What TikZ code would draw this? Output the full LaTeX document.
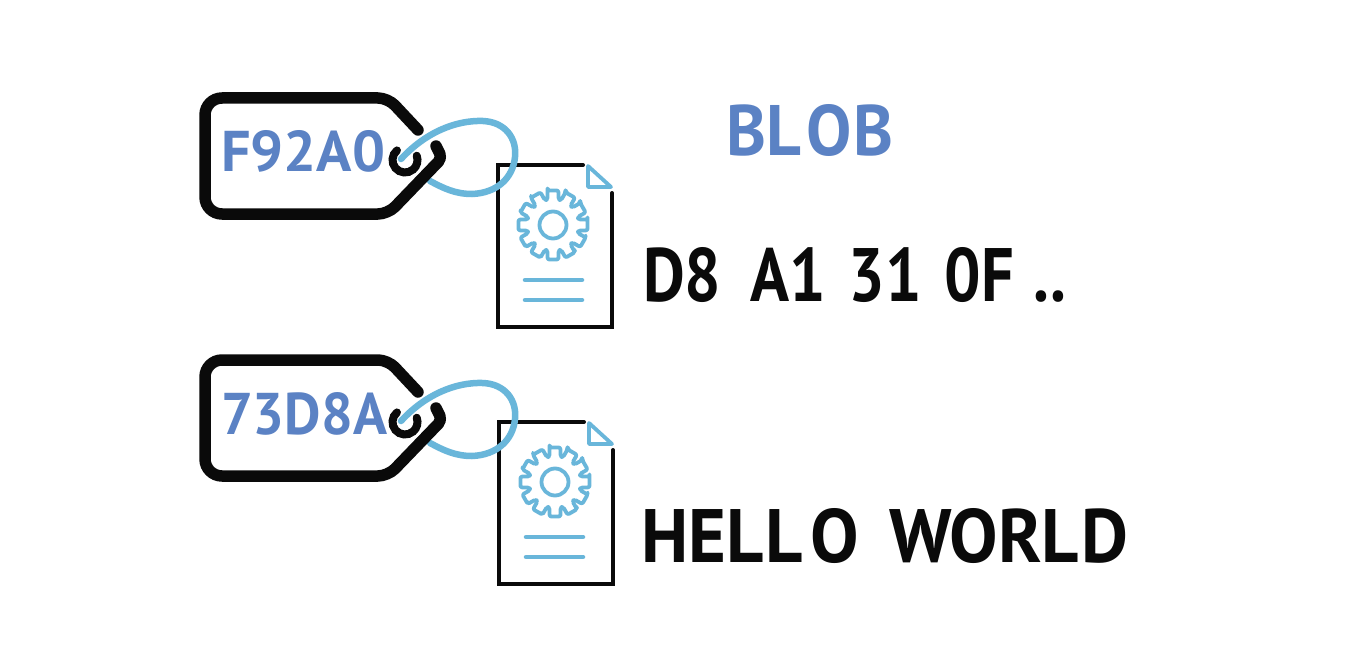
\documentclass[tikz,border=0pt]{standalone}
\usepackage{fontspec}
\usepackage{graphicx}
\setmainfont{PT Sans}
\definecolor{inkblack}{HTML}{0A0A0A}
\definecolor{skyline}{HTML}{69B6DA}
\definecolor{labelblue}{HTML}{5B82C4}
\newcommand{\fitlabel}[3]{\resizebox{#1pt}{#2pt}{\bfseries #3}}
\tikzset{
  x=1pt,y=-1pt,
  tagline/.style={draw=inkblack,line width=11.5pt,line cap=round,line join=round},
  holeline/.style={draw=inkblack,line width=8pt,line cap=round},
  stringline/.style={draw=skyline,line width=6.5pt,line cap=round},
  docline/.style={draw=inkblack,line width=4pt,line cap=round,line join=miter},
  iconline/.style={draw=skyline,line width=3.8pt,line join=round},
  rowline/.style={draw=skyline,line width=4.5pt,line cap=round},
  txt/.style={inner sep=0pt,outer sep=0pt,anchor=south west},
  pics/gearicon/.style={code={
    \draw[iconline,rounded corners=2pt]
      (-9:35) \foreach \a in {0,30,...,330}{
        -- ({\a-9}:35) -- ({\a+9}:35) -- ({\a+12}:26) -- ({\a+18}:26) -- ({\a+21}:35)
      } -- cycle;
    \draw[iconline] (0,0) circle[radius=13.5];
  }},
  pics/tagicon/.style={code={
    \draw[holeline] (405,160) ++(230:12.5) arc[start angle=230,end angle=-20,radius=12.5];
    \draw[stringline] (401,159) .. controls (425,133) and (455,120) .. (483,121)
      .. controls (505,122) and (517,138) .. (515,157)
      .. controls (513,178) and (497,193) .. (472,194)
      .. controls (455,194) and (443,188) .. (430,181);
    \draw[tagline,rounded corners=10pt] (418,130) -- (388,98)
      [rounded corners=17pt] -- (205,98) -- (205,214)
      [rounded corners=10pt] -- (388,214)
      [rounded corners=5pt] -- (442,158) -- (436,146);
  }}
}
\begin{document}
\begin{tikzpicture}
\useasboundingbox[fill=white] (0,0) rectangle (1348,666);
% first pair
\begin{scope}[shift={(498,165)}]
  \draw[docline] (85,0) -- (0,0) -- (0,162) -- (114,162) -- (114,28);
  \draw[iconline] (90,1) -- (90,22) -- (113,22) -- cycle;
  \pic at (55,60) {gearicon};
  \draw[rowline] (27,115) -- (84,115);
  \draw[rowline] (27,135) -- (84,135);
\end{scope}
\pic at (0,0) {tagicon};
\node[txt] (idone) at (221,172) {\textcolor{labelblue}{\fitlabel{164}{41}{F92A0}}};
% second pair
\begin{scope}[shift={(499,422)}]
  \draw[docline] (85,0) -- (0,0) -- (0,162) -- (114,162) -- (114,28);
  \draw[iconline] (90,1) -- (90,22) -- (113,22) -- cycle;
  \pic at (56,60) {gearicon};
  \draw[rowline] (27,115) -- (84,115);
  \draw[rowline] (27,135) -- (84,135);
\end{scope}
\pic at (0,262) {tagicon};
\node[txt] (idtwo) at (221,435) {\textcolor{labelblue}{\fitlabel{166}{42}{73D8A}}};
% texts
\node[txt] (blob) at (726,156) {\textcolor{labelblue}{\fitlabel{167}{51}{BL\kern0.08em O\kern0.02em B}}};
\node[txt] (bytes) at (643,303) {\textcolor{inkblack}{\fitlabel{423}{54}{D8\hspace{0.45em}A1\hspace{0.35em}31\hspace{0.36em}0F\hspace{0.3em}..}}};
\node[txt] (hello) at (641,564) {\textcolor{inkblack}{\fitlabel{487}{54}{HEL\kern0.03em L\kern0.1em O\hspace{0.42em}WORL\kern0.03em D}}};
\end{tikzpicture}
\end{document}
